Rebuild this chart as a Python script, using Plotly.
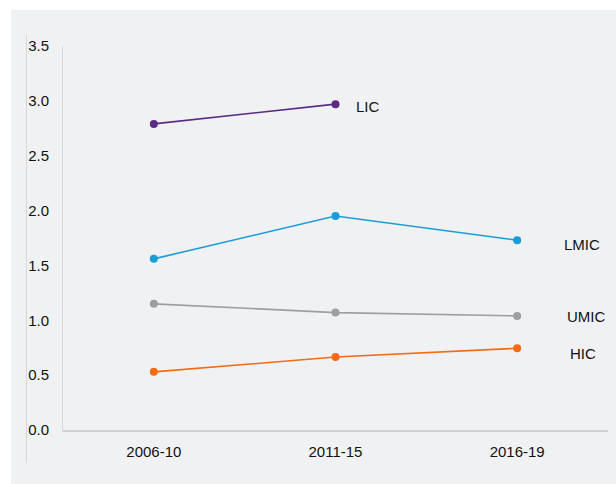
import plotly.graph_objects as go

periods = ["2006-10", "2011-15", "2016-19"]
lic = [2.79, 2.97, None]
lmic = [1.56, 1.95, 1.73]
umic = [1.15, 1.07, 1.04]
hic = [0.53, 0.665, 0.745]
series_names = ["LIC", "LMIC", "UMIC", "HIC"]
series_colors = ["#5b2a84", "#1a9cd8", "#9e9e9e", "#f26b15"]
y_ticks = [0.0, 0.5, 1.0, 1.5, 2.0, 2.5, 3.0, 3.5]

fig = go.Figure()
for name, vals, col in zip(series_names, [lic, lmic, umic, hic], series_colors):
    fig.add_trace(go.Scatter(x=periods, y=vals, mode="lines+markers", name=name,
                             line=dict(color=col, width=1.6),
                             marker=dict(color=col, size=8),
                             connectgaps=False, showlegend=False))

FONT = "Liberation Sans, Arial, Helvetica, sans-serif"
PANEL = "#f0f1f3"
# labels
label_pos = [(1, 2.97, 32, -2), (2, 1.73, 65, -4), (2, 1.04, 69, -1), (2, 0.745, 66, -5)]
for name, (xi, yv, xs, ys) in zip(series_names, label_pos):
    fig.add_annotation(x=xi, y=yv, text=name, showarrow=False, xshift=xs, yshift=ys,
                       xanchor="center", yanchor="middle",
                       font=dict(family=FONT, size=15, color="#111111"))

L, R, T, B = 63, 8, 46, 54
W, H = 616, 484
pw = W - L - R
ph = H - T - B
def px(x):
    return (x - L) / pw
def py(y):
    return (H - B - y) / ph

# white outer margins (top and left)
fig.add_shape(type="rect", xref="paper", yref="paper", layer="below",
              x0=px(-10), x1=px(640), y0=py(10), y1=py(-10),
              fillcolor="white", line=dict(width=0))
fig.add_shape(type="rect", xref="paper", yref="paper", layer="below",
              x0=px(-10), x1=px(11), y0=py(-10), y1=py(520),
              fillcolor="white", line=dict(width=0))
fig.add_shape(type="line", xref="paper", yref="paper", layer="below",
              x0=px(26.5), x1=px(26.5), y0=py(35), y1=py(463),
              line=dict(color="#d6d7da", width=1))

fig.update_layout(
    width=W, height=H,
    margin=dict(l=L, r=R, t=T, b=B),
    paper_bgcolor=PANEL, plot_bgcolor="rgba(0,0,0,0)",
    font=dict(family=FONT, size=15, color="#111111"),
)
fig.update_xaxes(type="category", range=[-0.5, 2.5], showgrid=False, zeroline=False,
                 showline=True, linecolor="#d0d1d4", linewidth=1.5, ticks="",
                 ticklabelstandoff=7)
fig.update_yaxes(range=[0, 3.5], tickvals=y_ticks, ticktext=[f"{v:.1f}" for v in y_ticks],
                 showgrid=False, zeroline=False,
                 showline=True, linecolor="#d6d7da", linewidth=1, ticks="",
                 ticklabelstandoff=10)

fig.write_html("out.html", config={"displayModeBar": False},
               post_script="document.body.style.margin='0';document.body.style.overflow='hidden';document.body.style.background='" + PANEL + "';")
